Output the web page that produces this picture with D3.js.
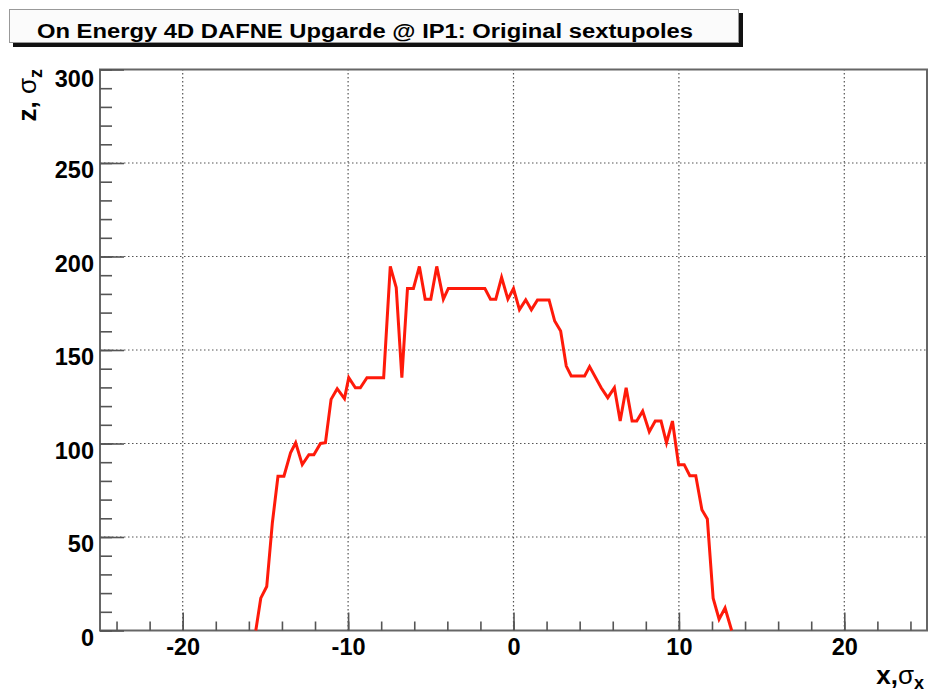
<!DOCTYPE html>
<html>
<head>
<meta charset="utf-8">
<script src="https://cdn.jsdelivr.net/npm/d3@7"></script>
<style>
  html, body { margin: 0; padding: 0; background: #ffffff; }
  svg { display: block; }
</style>
</head>
<body>
<svg id="chart" width="929" height="693"></svg>
<script>
// ---- data ----
const titleText = "On Energy 4D DAFNE Upgarde @ IP1: Original sextupoles";
const xValues = [-15.58, -15.28, -14.92, -14.58, -14.24, -13.88, -13.48, -13.17, -12.77, -12.37,
  -12.07, -11.67, -11.37, -11.03, -10.66, -10.22, -9.96, -9.56, -9.26, -8.86,
  -7.85, -7.45, -7.09, -6.75, -6.41, -6.05, -5.69, -5.34, -5.00, -4.64,
  -4.24, -3.94, -1.73, -1.39, -1.07, -0.72, -0.34, 0.00, 0.36, 0.74,
  1.08, 1.45, 2.15, 2.49, 2.85, 3.19, 3.49, 4.30, 4.60, 5.30,
  5.70, 6.10, 6.45, 6.81, 7.17, 7.45, 7.81, 8.21, 8.57, 8.92,
  9.25, 9.61, 9.98, 10.32, 10.66, 11.02, 11.39, 11.72, 12.07, 12.43,
  12.79, 13.19];
const zValues = [0, 17.3, 23.5, 57.5, 82.5, 82.5, 95, 100.4, 88.7, 94,
  94, 100, 100.4, 123.6, 129.3, 124, 135.2, 129.8, 129.8, 135.2,
  135.2, 194.7, 183.4, 135.2, 182.9, 182.9, 194.7, 177.2, 177.2, 194.7,
  177.2, 182.9, 182.9, 177.2, 177.2, 188.8, 177.2, 182.9, 171.6, 176.8,
  171.5, 176.8, 176.8, 165.5, 160.2, 141.4, 136.1, 136.1, 141.1, 129.8,
  124.5, 129.8, 112, 129.8, 112, 112, 117.3, 106.3, 112, 112,
  100.4, 112, 88.7, 88.7, 82.8, 82.8, 64.6, 59.6, 17.3, 6,
  12, 0];
const xDomain = [-25, 25];
const yDomain = [0, 300];
const xMajorTicks = [-20, -10, 0, 10, 20];
const xMinorTicks = d3.range(-24, 25, 2);
const yMajorTicks = [0, 50, 100, 150, 200, 250, 300];
const yMinorTicks = d3.range(0, 301, 10);

// ---- layout ----
const svg = d3.select("#chart");
const L = 100, R = 927, T = 69.5, B = 630.5;
const x = d3.scaleLinear().domain(xDomain).range([L, R]);
const y = d3.scaleLinear().domain(yDomain).range([B, T]);
const font = "'Liberation Sans', Arial, Helvetica, sans-serif";

// title box with shadow
svg.append("rect").attr("x", 13).attr("y", 13).attr("width", 730).attr("height", 34).attr("fill", "#111");
svg.append("rect").attr("x", 9.5).attr("y", 9.5).attr("width", 729).attr("height", 33)
  .attr("fill", "#fbfbfb").attr("stroke", "#999").attr("stroke-width", 1);
svg.append("text").attr("x", 37).attr("y", 38)
  .attr("font-family", font).attr("font-weight", "bold").attr("font-size", 19.5)
  .attr("textLength", 656).attr("lengthAdjust", "spacingAndGlyphs")
  .attr("fill", "#000").text(titleText);

// grid (dotted)
const grid = svg.append("g").attr("stroke", "#555").attr("stroke-width", 1.2).attr("stroke-dasharray", "1.5,2.5");
grid.selectAll("line.gx").data(xMajorTicks).enter().append("line")
  .attr("x1", d => x(d)).attr("x2", d => x(d)).attr("y1", B).attr("y2", T);
grid.selectAll("line.gy").data(yMajorTicks.filter(d => d > 0 && d < 300)).enter().append("line")
  .attr("y1", d => y(d)).attr("y2", d => y(d)).attr("x1", L).attr("x2", R);

// frame
svg.append("rect").attr("x", L).attr("y", T).attr("width", R - L).attr("height", B - T)
  .attr("fill", "none").attr("stroke", "#666").attr("stroke-width", 2);

// axes (ticks inward, ROOT style)
function styleAxis(g) {
  g.select(".domain").remove();
  g.selectAll(".tick line").attr("stroke", "#555").attr("stroke-width", 1.6);
}
svg.append("g").attr("transform", `translate(0,${B})`)
  .call(d3.axisBottom(x).tickValues(xMinorTicks).tickSize(-9).tickFormat(""))
  .call(styleAxis);
const xa = svg.append("g").attr("transform", `translate(0,${B})`)
  .call(d3.axisBottom(x).tickValues(xMajorTicks).tickSize(-18).tickFormat(d3.format("d")))
  .call(styleAxis);
xa.selectAll(".tick text").attr("y", 24.5).attr("dy", null)
  .attr("font-family", font).attr("font-weight", "bold").attr("font-size", 23.5).attr("fill", "#000")
  .text(d => d < 0 ? "-" + Math.abs(d) : String(d));

svg.append("g").attr("transform", `translate(${L},0)`)
  .call(d3.axisLeft(y).tickValues(yMinorTicks).tickSize(-12).tickFormat(""))
  .call(styleAxis);
const ya = svg.append("g").attr("transform", `translate(${L},0)`)
  .call(d3.axisLeft(y).tickValues(yMajorTicks).tickSize(-24).tickFormat(d3.format("d")))
  .call(styleAxis);
ya.selectAll(".tick text").attr("x", -6).attr("dy", null).attr("y", d => d === 300 ? 17 : 14.5)
  .attr("text-anchor", "end")
  .attr("font-family", font).attr("font-weight", "bold").attr("font-size", 23.5).attr("fill", "#000");

// axis titles
const xt = svg.append("text").attr("x", 924).attr("y", 684).attr("text-anchor", "end")
  .attr("font-family", font).attr("font-weight", "bold").attr("font-size", 26).attr("fill", "#000");
xt.append("tspan").text("x,");
xt.append("tspan").attr("font-weight", "normal").text("σ");
xt.append("tspan").attr("font-size", 18).attr("dy", 5).text("x");

const yt = svg.append("text").attr("transform", "translate(36,69) rotate(-90)").attr("text-anchor", "end")
  .attr("font-family", font).attr("font-weight", "bold").attr("font-size", 26).attr("fill", "#000");
yt.append("tspan").text("z, ");
yt.append("tspan").attr("font-weight", "normal").text("σ");
yt.append("tspan").attr("font-size", 18).attr("dy", 6).text("z");

// curve
const pts = xValues.map((v, i) => [v, zValues[i]]);
const line = d3.line().x(d => x(d[0])).y(d => y(d[1]));
svg.append("path").datum(pts).attr("d", line)
  .attr("fill", "none").attr("stroke", "#ff1a0a").attr("stroke-width", 3).attr("stroke-linejoin", "miter");
</script>
</body>
</html>
